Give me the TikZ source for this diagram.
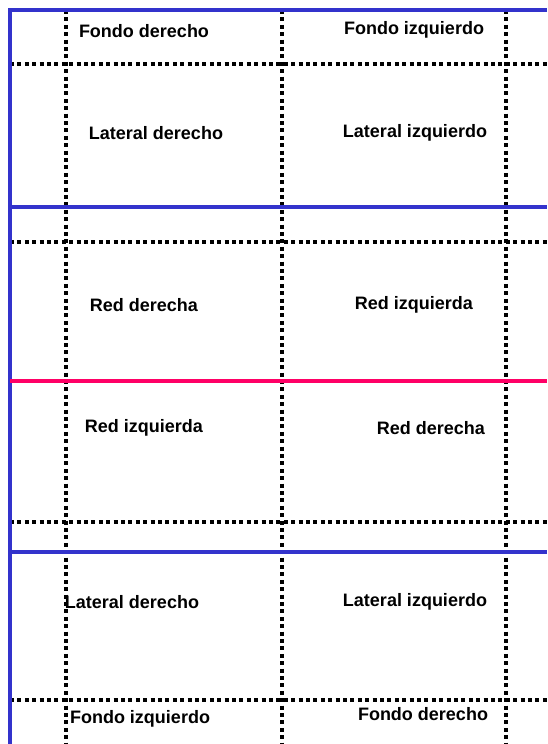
\documentclass[tikz,border=0pt]{standalone}
\usepackage{fontspec}
\setmainfont{Liberation Sans}
\usepackage{xcolor, tikz}
\definecolor{bordeazul}{HTML}{3333CC}
\definecolor{bordefucsia}{HTML}{FF0066}
\tikzstyle{etiqueta} = [font=\bfseries\fontsize{18}{21}\selectfont, inner sep=0pt, text=black]
\tikzstyle{corte} = [line width=3.2pt, dash pattern=on 4pt off 3.4pt]
\tikzstyle{pliegue} = [line width=3.2pt, bordeazul]
\tikzstyle{union} = [line width=3.2pt, bordefucsia]

\begin{document}
\begin{tikzpicture}[x=1pt, y=-1pt]
\useasboundingbox (0,0) rectangle (547,744);

% lineas de corte
\foreach \y in {64, 242, 522, 700}
  \draw [corte] (10,\y) -- (547,\y);
\foreach \x in {66, 282, 506}
  \draw [corte] (\x,10) -- (\x,744);

% pliegues
\draw [pliegue] (547,10) -- (10,10) -- (10,744);
\draw [pliegue] (10,207) -- (547,207);
\draw [pliegue] (10,552) -- (547,552);
\draw [union] (10,381) -- (547,381);

% caras
\node (fd1) [etiqueta] at (144,31) {Fondo derecho};
\node (fi1) [etiqueta] at (414,30) {Fondo izquierdo};
\node (ld1) [etiqueta] at (156,133) {Lateral derecho};
\node (li1) [etiqueta] at (415,133) {Lateral izquierdo};
\node (rd1) [etiqueta] at (144,305) {Red derecha};
\node (ri1) [etiqueta] at (414,305) {Red izquierda};
\node (ri2) [etiqueta] at (144,428) {Red izquierda};
\node (rd2) [etiqueta] at (431,428) {Red derecha};
\node (ld2) [etiqueta] at (132,602) {Lateral derecho};
\node (li2) [etiqueta] at (415,602) {Lateral izquierdo};
\node (fi2) [etiqueta] at (140,719) {Fondo izquierdo};
\node (fd2) [etiqueta] at (423,714) {Fondo derecho};

\end{tikzpicture}
\end{document}
